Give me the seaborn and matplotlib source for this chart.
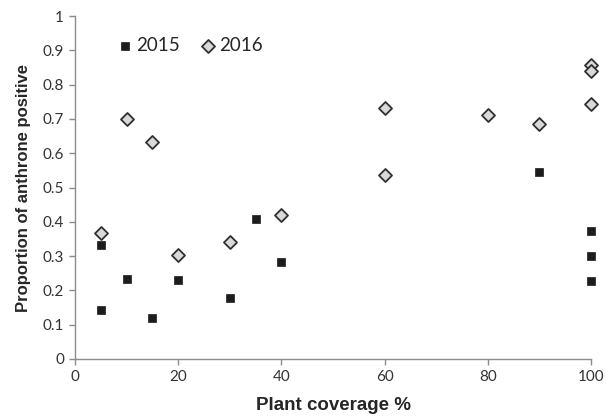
import pandas as pd
import matplotlib
matplotlib.use('Agg')
import matplotlib.pyplot as plt
import seaborn as sns

x_2015 = [5, 5, 10, 15, 20, 30, 35, 40, 90, 100, 100, 100]
y_2015 = [0.331, 0.142, 0.232, 0.119, 0.229, 0.177, 0.407, 0.282, 0.546, 0.374, 0.301, 0.226]

x_2016 = [5, 10, 15, 20, 30, 40, 60, 60, 80, 90, 100, 100, 100]
y_2016 = [0.366, 0.700, 0.634, 0.303, 0.340, 0.419, 0.731, 0.536, 0.711, 0.685, 0.857, 0.840, 0.743]

x_ticks = [0, 20, 40, 60, 80, 100]
y_ticks = [0, 0.1, 0.2, 0.3, 0.4, 0.5, 0.6, 0.7, 0.8, 0.9, 1]
y_ticklabels = ['0', '0.1', '0.2', '0.3', '0.4', '0.5', '0.6', '0.7', '0.8', '0.9', '1']


def make_plot():
    sns.set_style('ticks')
    plt.rcParams['font.family'] = ['Lato', 'DejaVu Sans']

    df15 = pd.DataFrame({'cov': x_2015, 'prop': y_2015})
    df16 = pd.DataFrame({'cov': x_2016, 'prop': y_2016})

    fig = plt.figure(figsize=(6.06, 4.16), dpi=100)
    ax = fig.add_axes([75 / 606, 57 / 416, 516 / 606, 343 / 416])

    sns.scatterplot(data=df15, x='cov', y='prop', marker='s', s=40,
                    color='#1c1c1c', edgecolor='#1c1c1c', linewidth=0.5,
                    label='2015', ax=ax, zorder=3, clip_on=False)
    sns.scatterplot(data=df16, x='cov', y='prop', marker='D', s=44,
                    color='#d9d9d9', edgecolor='#303030', linewidth=1.3,
                    label='2016', ax=ax, zorder=3, clip_on=False)

    ax.set_xlim(0, 100)
    ax.set_ylim(0, 1)
    ax.set_xticks(x_ticks)
    ax.set_yticks(y_ticks)
    ax.set_yticklabels(y_ticklabels)
    ax.tick_params(axis='both', direction='out', length=4, width=1,
                   color='#8c8c8c', labelsize=11, labelcolor='#333333', pad=4)

    for side in ['top', 'right']:
        ax.spines[side].set_visible(False)
    for side in ['left', 'bottom']:
        ax.spines[side].set_color('#8c8c8c')
        ax.spines[side].set_linewidth(1)

    ax.set_xlabel('Plant coverage %', fontsize=13.5, fontweight='bold',
                  family='Liberation Sans', color='#262626', labelpad=9)
    ax.set_ylabel('Proportion of anthrone positive', fontsize=12, fontweight='bold',
                  family='Liberation Sans', color='#262626', labelpad=8)

    ax.legend(loc='upper left', bbox_to_anchor=(0.068, 0.962), ncol=2, frameon=False,
              fontsize=13.5, handletextpad=0.2, columnspacing=1.1, handlelength=0.8,
              borderaxespad=0)

    plt.savefig('out.png', dpi=100)


if __name__ == "__main__":
    make_plot()
